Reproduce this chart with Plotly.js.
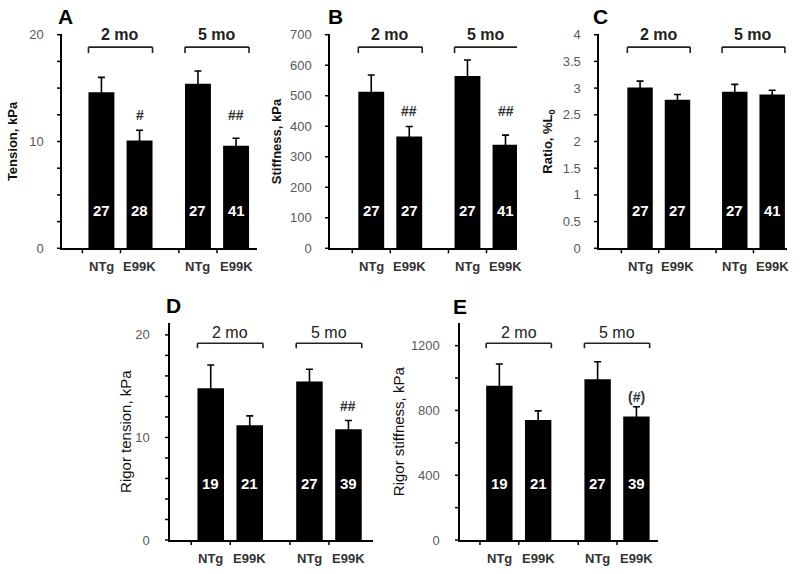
<!DOCTYPE html>
<html><head><meta charset="utf-8">
<script src="https://cdn.plot.ly/plotly-3.0.1.min.js"></script>
<style>html,body{margin:0;padding:0;background:#fff;overflow:hidden}</style>
</head><body><div id="chart" style="width:800px;height:574px"></div>
<script>
// ---------- data ----------
const groups = ["2 mo", "5 mo"];
const genotypes = ["NTg", "E99K"];

// A: active tension (kPa)
const tensionNTg = [14.6, 15.4];
const tensionNTgSem = [1.4, 1.2];
const tensionE99K = [10.1, 9.6];
const tensionE99KSem = [0.95, 0.7];
const tensionN_NTg = [27, 27];
const tensionN_E99K = [28, 41];
const tensionSig = ["#", "##"];

// B: stiffness (kPa)
const stiffNTg = [513, 565];
const stiffNTgSem = [55, 52];
const stiffE99K = [366, 339];
const stiffE99KSem = [33, 32];
const stiffN_NTg = [27, 27];
const stiffN_E99K = [27, 41];
const stiffSig = ["##", "##"];

// C: ratio (%L0)
const ratioNTg = [3.01, 2.93];
const ratioNTgSem = [0.12, 0.14];
const ratioE99K = [2.78, 2.88];
const ratioE99KSem = [0.10, 0.08];
const ratioN_NTg = [27, 27];
const ratioN_E99K = [27, 41];
const ratioSig = ["", ""];

// D: rigor tension (kPa)
const rigorTensionNTg = [14.8, 15.45];
const rigorTensionNTgSem = [2.27, 1.2];
const rigorTensionE99K = [11.2, 10.8];
const rigorTensionE99KSem = [0.9, 0.85];
const rigorTensionN_NTg = [19, 27];
const rigorTensionN_E99K = [21, 39];
const rigorTensionSig = ["", "##"];

// E: rigor stiffness (kPa)
const rigorStiffNTg = [953, 992];
const rigorStiffNTgSem = [134, 109];
const rigorStiffE99K = [741, 762];
const rigorStiffE99KSem = [56, 61];
const rigorStiffN_NTg = [19, 27];
const rigorStiffN_E99K = [21, 39];
const rigorStiffSig = ["", "(#)"];

// tick labels
const tensionTicks = [0, 10, 20];
const stiffTicks = [0, 100, 200, 300, 400, 500, 600, 700];
const ratioTicks = [0, 0.5, 1, 1.5, 2, 2.5, 3, 3.5, 4];
const rigorTensionTicks = [0, 10, 20];
const rigorStiffTicks = [0, 400, 800, 1200];

// ---------- layout helpers ----------
const W = 800, H = 574;
const FONT = "Liberation Sans, Arial, sans-serif";
const BARGAP = 0.21, BARGROUPGAP = 0.32;
const slot = (1 - BARGAP) / 2;
const barW = slot * (1 - BARGROUPGAP);
const px = v => v / W;
const py = v => 1 - v / H;

const panels = [
  {id: "", letter: "A", title: "Tension, kPa", top: true,
   ntg: tensionNTg, ntgSem: tensionNTgSem, mut: tensionE99K, mutSem: tensionE99KSem,
   nN: tensionN_NTg, nM: tensionN_E99K, sig: tensionSig, ticks: tensionTicks,
   xpx: [62, 256.5], ypx: [34.7, 248.3], xr: [-0.606, 1.409], yr: [0, 20], minor: 2.5,
   standoff: 9, sigY: 0.624, letterPx: [56, 3]},
  {id: "2", letter: "B", title: "Stiffness, kPa", top: true,
   ntg: stiffNTg, ntgSem: stiffNTgSem, mut: stiffE99K, mutSem: stiffE99KSem,
   nN: stiffN_NTg, nM: stiffN_E99K, sig: stiffSig, ticks: stiffTicks,
   xpx: [330, 517], ypx: [34.7, 248.3], xr: [-0.626, 1.317], yr: [0, 700], minor: null,
   standoff: 5, sigY: 0.642, letterPx: [326, 3]},
  {id: "3", letter: "C", title: "Ratio, %L<sub>0</sub>", top: true,
   ntg: ratioNTg, ntgSem: ratioNTgSem, mut: ratioE99K, mutSem: ratioE99KSem,
   nN: ratioN_NTg, nM: ratioN_E99K, sig: ratioSig, ticks: ratioTicks,
   xpx: [599, 787], ypx: [34.7, 248.3], xr: [-0.631, 1.354], yr: [0, 4], minor: null,
   standoff: 7, sigY: 0.64, letterPx: [591, 3]},
  {id: "4", letter: "D", title: "Rigor tension, kPa", top: false,
   ntg: rigorTensionNTg, ntgSem: rigorTensionNTgSem, mut: rigorTensionE99K, mutSem: rigorTensionE99KSem,
   nN: rigorTensionN_NTg, nM: rigorTensionN_E99K, sig: rigorTensionSig, ticks: rigorTensionTicks,
   xpx: [170, 373], ypx: [323.3, 540], xr: [-0.610, 1.446], yr: [0, 21.13], minor: 2,
   standoff: 0, sigY: 0.618, letterPx: [164, 292]},
  {id: "5", letter: "E", title: "Rigor stiffness, kPa", top: false,
   ntg: rigorStiffNTg, ntgSem: rigorStiffNTgSem, mut: rigorStiffE99K, mutSem: rigorStiffE99KSem,
   nN: rigorStiffN_NTg, nM: rigorStiffN_E99K, sig: rigorStiffSig, ticks: rigorStiffTicks,
   xpx: [460, 658], ypx: [323.3, 540], xr: [-0.598, 1.417], yr: [0, 1338], minor: 200,
   standoff: 2, sigY: 0.661, letterPx: [451, 293]}
];

const data = [];
const layout = {
  width: W, height: H,
  margin: {l: 0, r: 0, t: 0, b: 0},
  paper_bgcolor: "#fff", plot_bgcolor: "rgba(0,0,0,0)",
  showlegend: false,
  barmode: "group", bargap: BARGAP, bargroupgap: BARGROUPGAP,
  font: {family: FONT, color: "#000"},
  annotations: [], shapes: []
};

const TICK = {color: "#000", width: 1.5};
const TICKLEN = 5;

panels.forEach(p => {
  const xa = "x" + p.id, ya = "y" + p.id;
  const xKey = "xaxis" + p.id, yKey = "yaxis" + p.id;
  const errStyle = {type: "data", visible: true, color: "#000", thickness: 1.6, width: 3.5};
  [[p.ntg, p.ntgSem, genotypes[0]], [p.mut, p.mutSem, genotypes[1]]].forEach(([vals, sem, name]) => {
    data.push({
      type: "bar", name: name, x: groups, y: vals, xaxis: xa, yaxis: ya,
      marker: {color: "#000", line: {width: 0}},
      error_y: Object.assign({array: sem}, errStyle),
      hoverinfo: "skip"
    });
  });

  // paper-coordinate helpers for the tick marks (paper shapes are never clipped)
  const xd = [px(p.xpx[0]), px(p.xpx[1])];
  const yd = [py(p.ypx[1]), py(p.ypx[0])];
  const xPaper = t => xd[0] + (t - p.xr[0]) / (p.xr[1] - p.xr[0]) * (xd[1] - xd[0]);
  const yPaper = v => yd[0] + (v - p.yr[0]) / (p.yr[1] - p.yr[0]) * (yd[1] - yd[0]);

  // x tick marks (left of each bar slot)
  const xTickVals = [];
  groups.forEach((g, gi) => { xTickVals.push(gi - slot, gi); });
  xTickVals.forEach(t => layout.shapes.push({
    type: "line", xref: "paper", yref: "paper", layer: "above",
    x0: xPaper(t), x1: xPaper(t), y0: yd[0], y1: yd[0] - TICKLEN / H, line: TICK
  }));

  // y tick marks: labelled ticks plus unlabelled intermediate ticks
  const lastTick = p.ticks[p.ticks.length - 1];
  let yTickMarks = p.ticks.slice();
  if (p.minor) {
    yTickMarks = [];
    for (let k = 0; k * p.minor <= lastTick + 1e-9; k++) yTickMarks.push(+(k * p.minor).toFixed(6));
  }
  yTickMarks.forEach(v => layout.shapes.push({
    type: "line", xref: "paper", yref: "paper", layer: "above",
    x0: xd[0] - TICKLEN / W, x1: xd[0], y0: yPaper(v), y1: yPaper(v), line: TICK
  }));

  layout[xKey] = {
    domain: xd, anchor: ya,
    type: "category", categoryorder: "array", categoryarray: groups,
    range: p.xr, fixedrange: true,
    showline: true, linecolor: "#000", linewidth: 1.6,
    showgrid: false, zeroline: false, ticks: "",
    showticklabels: false
  };
  layout[yKey] = {
    domain: yd, anchor: xa,
    range: p.yr, fixedrange: true,
    showline: true, linecolor: "#000", linewidth: 1.6,
    showgrid: false, zeroline: false,
    tickmode: "array", tickvals: p.ticks, ticks: "",
    ticklabelstandoff: p.top ? 14 : 16,
    tickfont: {family: FONT, size: 13, color: "#595959"},
    title: {
      text: p.title, standoff: p.standoff,
      font: p.top ? {family: FONT, size: 13, color: "#111", weight: "bold"}
                  : {family: FONT, size: 15, color: "#111"}
    }
  };

  // panel letter
  layout.annotations.push({
    xref: "paper", yref: "paper", x: px(p.letterPx[0]), y: py(p.letterPx[1]),
    xanchor: "left", yanchor: "top", showarrow: false,
    text: "<b>" + p.letter + "</b>", font: {family: FONT, size: 21, color: "#000"}
  });

  const brTop = p.top ? 0.942 : 0.908;
  const brLow = p.top ? 0.914 : 0.885;
  const grpY = p.top ? 0.999 : 0.958;
  const half = slot / 2 + barW / 2;
  groups.forEach((g, gi) => {
    // bracket
    const x0 = gi - half, x1 = gi + half;
    const ln = {color: "#222", width: 1.6};
    layout.shapes.push({type: "line", xref: xa, yref: ya + " domain", x0: x0, x1: x1, y0: brTop, y1: brTop, line: ln});
    layout.shapes.push({type: "line", xref: xa, yref: ya + " domain", x0: x0, x1: x0, y0: brTop, y1: brLow, line: ln});
    layout.shapes.push({type: "line", xref: xa, yref: ya + " domain", x0: x1, x1: x1, y0: brTop, y1: brLow, line: ln});
    // group label
    layout.annotations.push({
      xref: xa, yref: ya + " domain", x: gi, y: grpY, xanchor: "center", yanchor: "middle",
      showarrow: false, text: p.top ? "<b>" + g + "</b>" : g,
      font: {family: FONT, size: 16, color: "#222"}
    });
    // genotype labels, n numbers
    genotypes.forEach((gt, ti) => {
      const xc = gi + (ti === 0 ? -slot / 2 : slot / 2);
      layout.annotations.push({
        xref: xa, yref: ya + " domain", x: xc, y: 0, yshift: -18,
        xanchor: "center", yanchor: "middle", showarrow: false,
        text: "<b>" + gt + "</b>", font: {family: FONT, size: 13, color: "#333"}
      });
      const nVal = ti === 0 ? p.nN[gi] : p.nM[gi];
      layout.annotations.push({
        xref: xa, yref: ya + " domain", x: xc, y: 0, yshift: p.top ? 38 : 57,
        xanchor: "center", yanchor: "middle", showarrow: false,
        text: "<b>" + nVal + "</b>", font: {family: FONT, size: 15, color: "#fff"}
      });
    });
    // significance marker above E99K bar
    if (p.sig[gi]) {
      layout.annotations.push({
        xref: xa, yref: ya + " domain", x: gi + slot / 2, y: p.sigY,
        xanchor: "center", yanchor: "middle", showarrow: false,
        text: "<b>" + p.sig[gi] + "</b>", font: {family: FONT, size: 14, color: "#333"}
      });
    }
  });
});

Plotly.newPlot("chart", data, layout, {staticPlot: true, displayModeBar: false});
</script>
</body></html>
